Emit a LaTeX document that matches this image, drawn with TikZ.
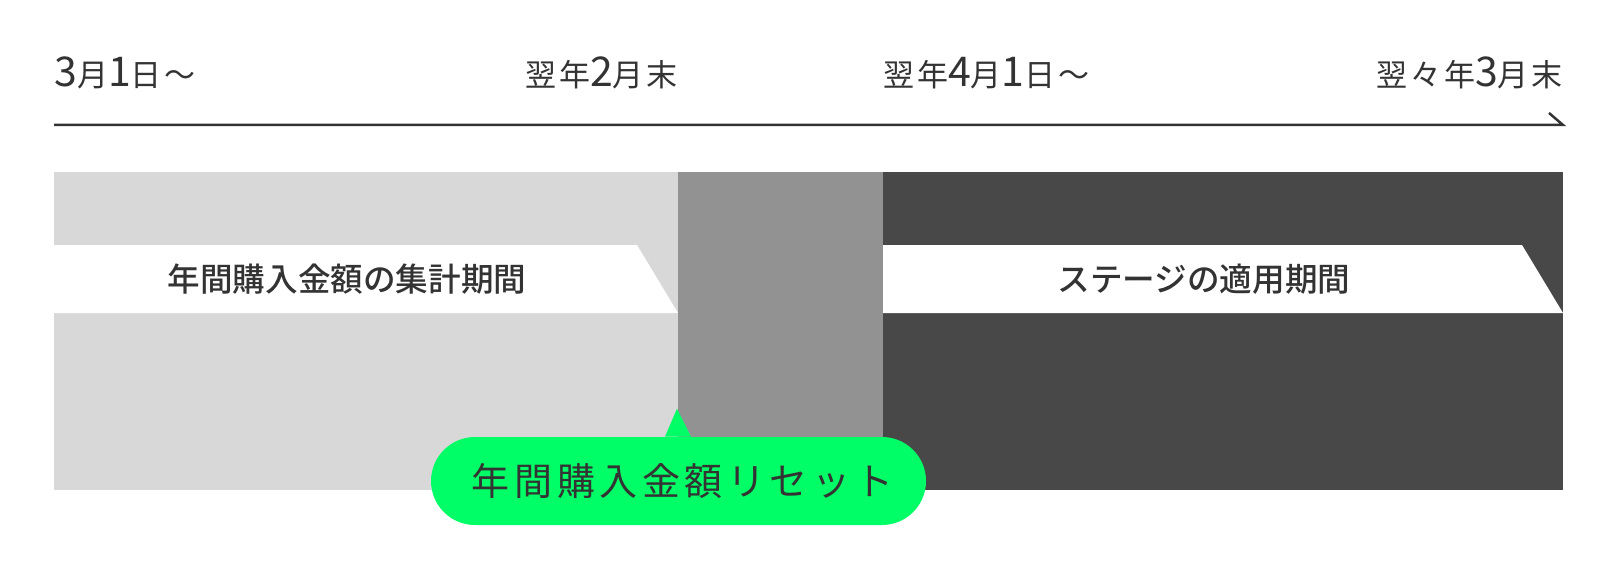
\documentclass[tikz,border=0pt]{standalone}
\usepackage{fontspec}
\setmainfont{Noto Sans CJK JP}
\newfontfamily\datefont{Noto Sans CJK JP}[LetterSpace=9]
\newfontfamily\bannerfont{Noto Sans CJK JP Medium}
\newfontfamily\resetfont{Noto Sans CJK JP}[LetterSpace=12]
\usetikzlibrary{positioning}
\definecolor{ink}{HTML}{333333}
\definecolor{lightband}{HTML}{D8D8D8}
\definecolor{midband}{HTML}{929292}
\definecolor{darkband}{HTML}{484848}
\definecolor{resetgreen}{HTML}{00FF66}
\newcommand{\dg}[1]{{\fontsize{20.5}{20.5}\selectfont #1}}

\begin{document}
\begin{tikzpicture}[x=0.5pt, y=-0.5pt,
    datelabel/.style={text=ink, font=\datefont\fontsize{15.5}{15.5}\selectfont, inner sep=0pt},
    banner/.style={text=ink, font=\bannerfont\fontsize{16.3}{16.3}\selectfont, inner sep=0pt},
    bubble/.style={fill=resetgreen, text=ink, font=\resetfont\fontsize{19}{19}\selectfont,
        rounded corners=22pt, minimum width=247.5pt, minimum height=44pt, inner sep=0pt}]

    \useasboundingbox (0,0) rectangle (1620,572);

    % bands
    \fill[lightband] (54,172) rectangle (678,490);
    \fill[midband] (678,172) rectangle (883,490);
    \fill[darkband] (883,172) rectangle (1563,490);
    \fill[white] (54,245) -- (637,245) -- (678,313) -- (54,313) -- cycle;
    \fill[white] (883,245) -- (1522,245) -- (1563,313) -- (883,313) -- cycle;

    %nodes
    \node[datelabel, anchor=base west] (start) at (54,87) {\dg{3}月\dg{1}日〜};
    \node[datelabel, anchor=base east] (febend) at (678,87) {翌年\dg{2}月末};
    \node[datelabel, anchor=base west] (aprstart) at (883,87) {翌年\dg{4}月\dg{1}日〜};
    \node[datelabel, anchor=base east] (marend) at (1563,87) {翌々年\dg{3}月末};
    \node[banner] (collect) at (347,279) {年間購入金額の集計期間};
    \node[banner] (apply) at (1204,279) {ステージの適用期間};
    \node[bubble] (reset) at (678.5,481) {\hspace{4pt}年間購入金額リセット};

    % timeline
    \coordinate (t0) at (54,125);
    \coordinate (t1) at (1563,125);
    \coordinate (tick) at (1549,113);
    \draw[ink, line width=1.25pt] (t0) -- (t1) -- (tick);

    % pointer
    \fill[resetgreen] ([xshift=-6.75pt]reset.north) -- ([xshift=-0.75pt, yshift=14pt]reset.north)
        -- ([xshift=6.25pt]reset.north) -- cycle;

\end{tikzpicture}
\end{document}
